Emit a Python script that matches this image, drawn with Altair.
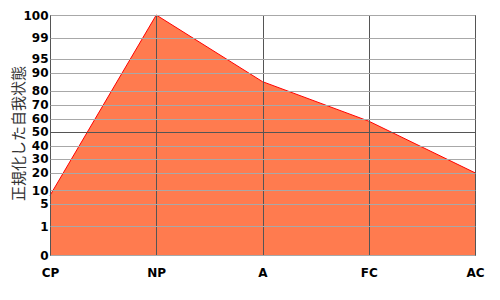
import altair as alt
import pandas as pd

categories = ["CP", "NP", "A", "FC", "AC"]
values = [8, 100, 85, 58, 20]

tick_values = [0, 1, 5, 10, 20, 30, 40, 50, 60, 70, 80, 90, 95, 99, 100]
tick_pixels = [240, 211, 188.7, 175, 157.8, 143.8, 130.5, 116.8, 103.5, 89.8, 75.5, 57.8, 43.8, 22.8, 0]

df = pd.DataFrame({"cat": categories, "val": values})

x = alt.X("cat:N", sort=categories,
          scale=alt.Scale(type="point", padding=0),
          axis=alt.Axis(title=None, labelAngle=0, grid=True, gridColor="#555555",
                        domain=False, ticks=False, labelPadding=12,
                        labelFont="DejaVu Sans", labelFontWeight="bold", labelFontSize=12,
                        labelColor="#000000", zindex=1))
y = alt.Y("val:Q",
          scale=alt.Scale(domain=tick_values, range=tick_pixels, clamp=True),
          axis=alt.Axis(title="正規化した自我状態", values=tick_values, grid=True,
                        gridColor=alt.condition("datum.value == 50", alt.value("#555555"), alt.value("#A8A8A8")),
                        domain=False, ticks=False, labelPadding=2, labelOverlap=False,
                        labelFlush=False, labelBound=False,
                        labelFont="DejaVu Sans", labelFontWeight="bold", labelFontSize=12,
                        labelColor="#000000",
                        titleFont="Noto Sans CJK JP", titleFontSize=15, titleFontWeight="normal",
                        titleColor="#333333", titleX=-32, titleY=118, titleAngle=270,
                        titleAlign="center", titleBaseline="middle", zindex=1))

area = alt.Chart(df).mark_area(color="#FF7B4F", opacity=1, interpolate="linear").encode(x=x, y=y)
line = alt.Chart(df).mark_line(color="#FF0000", strokeWidth=1).encode(x=x, y=y)

chart = (area + line).properties(
    width=425, height=240,
    autosize=alt.AutoSizeParams(type="none"),
    padding={"left": 50, "top": 15, "right": 25, "bottom": 45},
    background="#FFFFFF",
).configure_view(stroke="#000000", strokeWidth=1)

chart.save("out.html", embed_options={"renderer": "svg", "actions": False})
